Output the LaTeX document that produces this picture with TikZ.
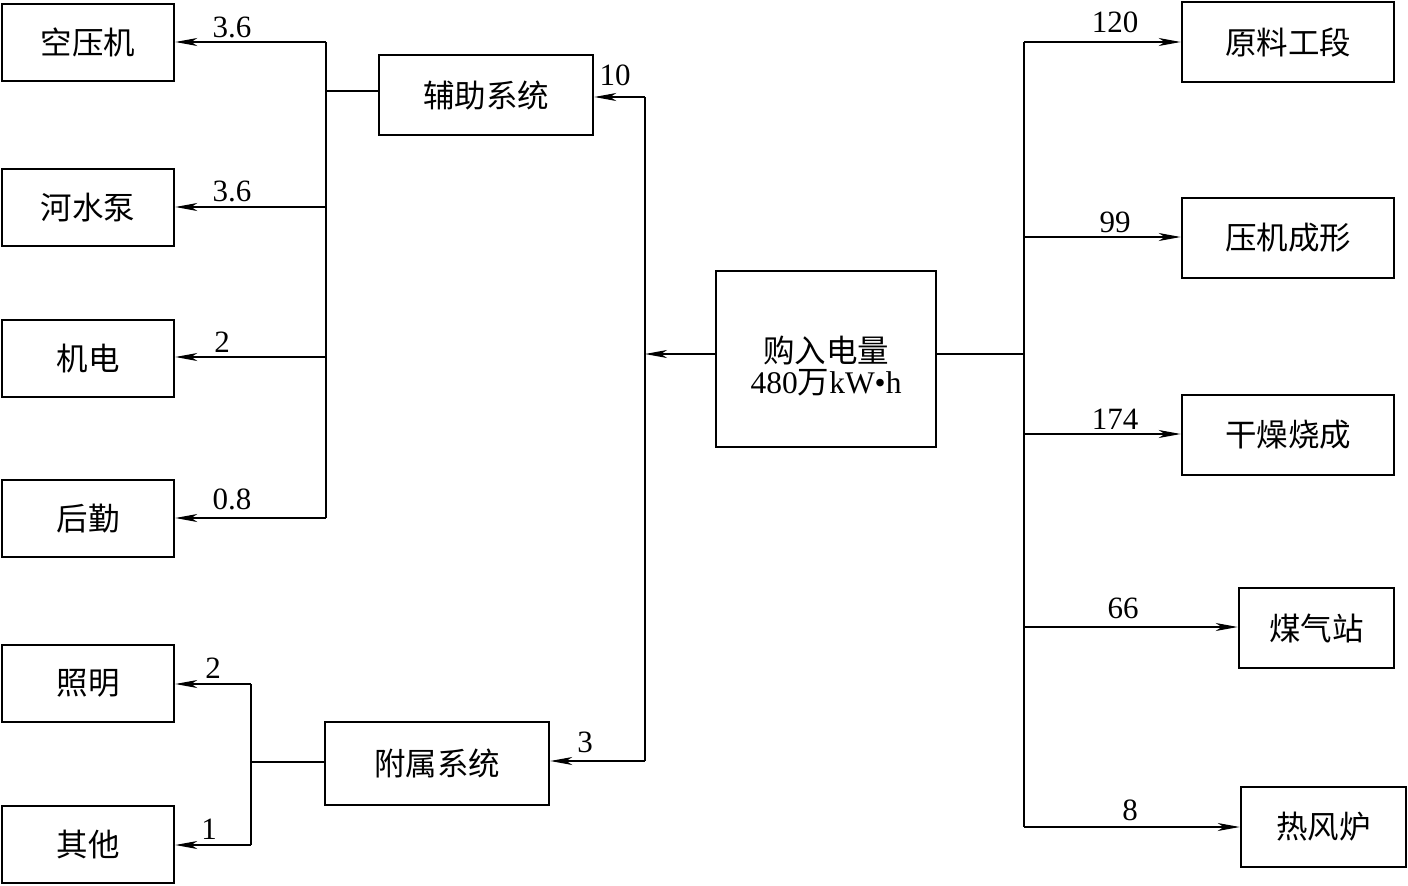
\documentclass[tikz,border=0pt]{standalone}
\usepackage{fontspec}
\setmainfont{Liberation Serif}
\newfontfamily\cjk{Noto Sans CJK SC}
\usetikzlibrary{arrows.meta}
\begin{document}
\begin{tikzpicture}[x=1pt,y=-1pt,
  box/.style={draw,line width=2.6pt,inner sep=0pt,font=\cjk\fontsize{31.5}{34}\selectfont},
  conn/.style={line width=1.2pt},
  arr/.style={line width=1.2pt,-{Stealth[length=22pt,width=8pt,inset=6pt]}},
  num/.style={font=\fontsize{31}{34}\selectfont,inner sep=0pt}]
\useasboundingbox[fill=white] (0,0) rectangle (1408,886);
% left boxes
\node[box,minimum width=172pt,minimum height=77pt] (kyj) at (88,42.5) {空压机};
\node[box,minimum width=172pt,minimum height=77pt] (hsb) at (88,207.5) {河水泵};
\node[box,minimum width=172pt,minimum height=77pt] (jd) at (88,358.5) {机电};
\node[box,minimum width=172pt,minimum height=77pt] (hq) at (88,518.5) {后勤};
\node[box,minimum width=172pt,minimum height=77pt] (zm) at (88,683.5) {照明};
\node[box,minimum width=172pt,minimum height=77pt] (qt) at (88,844.5) {其他};
% middle boxes
\node[box,minimum width=214pt,minimum height=80pt] (fz) at (486,95) {辅助系统};
\node[box,minimum width=224pt,minimum height=83pt] (fs) at (437,763.5) {附属系统};
\node[box,minimum width=220pt,minimum height=176pt,align=center] (gr) at (826,359)
  {\rule{0pt}{40pt}购入电量\\[-3pt]{\rmfamily 480}万{\rmfamily kW•h}};
% right boxes
\node[box,minimum width=212pt,minimum height=80pt] (ylgd) at (1288,42) {原料工段};
\node[box,minimum width=212pt,minimum height=80pt] (yjcx) at (1288,238) {压机成形};
\node[box,minimum width=212pt,minimum height=80pt] (gzsc) at (1288,435) {干燥烧成};
\node[box,minimum width=155pt,minimum height=80pt] (mqz) at (1316.5,628) {煤气站};
\node[box,minimum width=165pt,minimum height=80pt] (rfl) at (1323.5,827) {热风炉};
% bus coordinates
\coordinate (lb1) at (326,42);
\coordinate (lb2) at (326,207);
\coordinate (lb3) at (326,357);
\coordinate (lb4) at (326,518);
\coordinate (lbj) at (326,91);
\coordinate (mb1) at (645,97);
\coordinate (mb2) at (645,761);
\coordinate (mbj) at (645,354);
\coordinate (sb1) at (251,684);
\coordinate (sb2) at (251,845);
\coordinate (sbj) at (251,762);
\coordinate (rbj) at (1024,354);
\coordinate (rb1) at (1024,42);
\coordinate (rb2) at (1024,237);
\coordinate (rb3) at (1024,434);
\coordinate (rb4) at (1024,627);
\coordinate (rb5) at (1024,827);
% left bus
\draw[conn] (lb1) -- (lb4);
\draw[conn] (lbj) -- (lbj -| fz.west);
\draw[arr] (lb1) -- (lb1 -| kyj.east);
\draw[arr] (lb2) -- (lb2 -| hsb.east);
\draw[arr] (lb3) -- (lb3 -| jd.east);
\draw[arr] (lb4) -- (lb4 -| hq.east);
% middle bus
\draw[conn] (mb1) -- (mb2);
\draw[arr] (gr.west |- mbj) -- (mbj);
\draw[arr] (mb1) -- (mb1 -| fz.east);
\draw[arr] (mb2) -- (mb2 -| fs.east);
% small bus
\draw[conn] (sb1) -- (sb2);
\draw[conn] (sbj) -- (sbj -| fs.west);
\draw[arr] (sb1) -- (sb1 -| zm.east);
\draw[arr] (sb2) -- (sb2 -| qt.east);
% right bus
\draw[conn] (rb1) -- (rb5);
\draw[conn] (gr.east |- rbj) -- (rbj);
\draw[arr] (rb1) -- (rb1 -| ylgd.west);
\draw[arr] (rb2) -- (rb2 -| yjcx.west);
\draw[arr] (rb3) -- (rb3 -| gzsc.west);
\draw[arr] (rb4) -- (rb4 -| mqz.west);
\draw[arr] (rb5) -- (rb5 -| rfl.west);
% labels
\node[num] (l1) at (232,27) {3.6};
\node[num] (l2) at (232,191) {3.6};
\node[num] (l3) at (222,342) {2};
\node[num] (l4) at (232,499) {0.8};
\node[num] (l5) at (615,75) {10};
\node[num] (l6) at (585,742) {3};
\node[num] (l7) at (213,668) {2};
\node[num] (l8) at (209,829) {1};
\node[num] (l9) at (1115,22) {120};
\node[num] (l10) at (1115,222) {99};
\node[num] (l11) at (1115,419) {174};
\node[num] (l12) at (1123,608) {66};
\node[num] (l13) at (1130,810) {8};
\end{tikzpicture}
\end{document}
